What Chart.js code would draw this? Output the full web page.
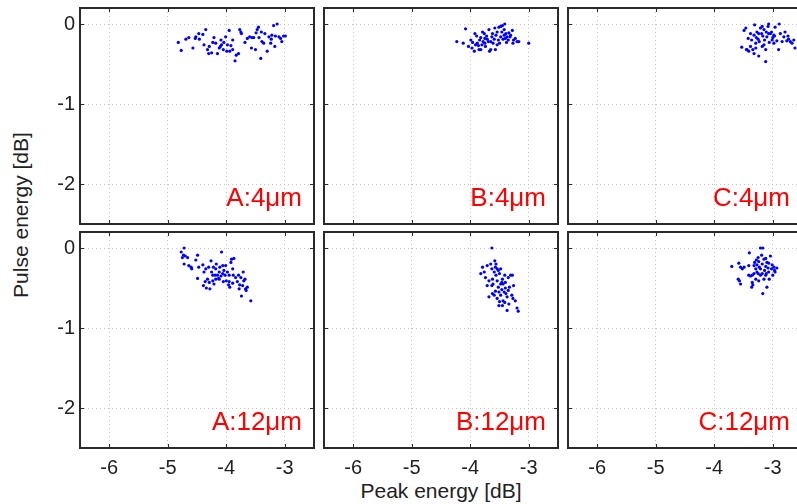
<!DOCTYPE html>
<html>
<head>
<meta charset="utf-8">
<script src="https://cdn.jsdelivr.net/npm/chart.js@4.4.1/dist/chart.umd.min.js"></script>
<style>
  html, body { margin: 0; padding: 0; background: #fff; }
  #wrap { position: relative; width: 797px; height: 504px; overflow: hidden; font-family: "Liberation Sans", Arial, sans-serif; }
  #wrap canvas { position: absolute; }
  .axis-title { position: absolute; font-size: 21px; color: #222; white-space: nowrap; }
  #xTitle { left: 441px; top: 491px; transform: translate(-50%, -50%); }
  #yTitle { left: 21px; top: 215px; transform: translate(-50%, -50%) rotate(-90deg); }
</style>
</head>
<body>
<div id="wrap">
  <div class="axis-title" id="xTitle">Peak energy [dB]</div>
  <div class="axis-title" id="yTitle">Pulse energy [dB]</div>
</div>
<script>
(function () {
  "use strict";

  // ---- data ----
  const xTicks = [-6, -5, -4, -3];
  const yTicks = [-2, -1, 0];
  const panelLabels = ["A:4\u03bcm", "B:4\u03bcm", "C:4\u03bcm", "A:12\u03bcm", "B:12\u03bcm", "C:12\u03bcm"];

  const a4Peak = [-4.82, -4.77, -4.69, -4.64, -4.57, -4.52, -4.47, -4.40, -4.35, -4.46, -4.38, -4.30, -4.25, -4.21, -4.18, -4.15, -4.12, -4.09, -4.08, -4.05, -4.04, -4.01, -3.99, -3.95, -3.92, -3.89, -3.85, -3.83, -3.79, -3.77, -3.74, -3.68, -3.64, -3.60, -3.57, -3.53, -3.50, -3.49, -3.47, -3.45, -3.44, -3.41, -3.40, -3.39, -3.36, -3.34, -3.30, -3.27, -3.24, -3.22, -3.19, -3.16, -3.13, -3.10, -3.07, -3.05, -3.02, -2.99, -3.17, -4.23, -4.10, -3.98, -3.94, -4.53, -4.29, -3.75, -3.56, -3.23, -4.32, -3.89];
  const a4Pulse = [-0.23, -0.33, -0.19, -0.17, -0.30, -0.16, -0.12, -0.13, -0.07, -0.19, -0.26, -0.37, -0.36, -0.17, -0.24, -0.37, -0.30, -0.20, -0.26, -0.32, -0.23, -0.16, -0.34, -0.08, -0.27, -0.32, -0.46, -0.39, -0.37, -0.07, -0.12, -0.23, -0.18, -0.16, -0.30, -0.17, -0.32, -0.11, -0.07, -0.04, -0.17, -0.43, -0.10, -0.22, -0.24, -0.12, -0.34, -0.16, -0.24, -0.14, -0.02, -0.15, 0.00, -0.16, -0.18, -0.22, -0.15, -0.15, -0.28, -0.23, -0.28, -0.26, -0.34, -0.18, -0.28, -0.10, -0.17, -0.19, -0.32, -0.20];

  const b4Peak = [-4.23, -4.12, -4.08, -4.03, -3.99, -3.96, -3.93, -3.92, -3.89, -3.88, -3.85, -3.84, -3.82, -3.80, -3.79, -3.78, -3.76, -3.75, -3.74, -3.72, -3.71, -3.69, -3.68, -3.67, -3.65, -3.63, -3.62, -3.61, -3.59, -3.58, -3.57, -3.56, -3.54, -3.52, -3.51, -3.50, -3.48, -3.46, -3.45, -3.44, -3.42, -3.41, -3.40, -3.39, -3.37, -3.35, -3.34, -3.32, -3.31, -3.28, -3.27, -3.26, -3.23, -3.20, -3.17, -3.00, -3.91, -3.86, -3.75, -3.65, -3.54, -3.48, -3.42, -3.38, -3.82, -3.97];
  const b4Pulse = [-0.22, -0.24, -0.06, -0.28, -0.20, -0.23, -0.34, -0.12, -0.15, -0.24, -0.32, -0.20, -0.17, -0.26, -0.10, -0.22, -0.12, -0.18, -0.28, -0.15, -0.19, -0.22, -0.07, -0.34, -0.32, -0.16, -0.12, -0.24, -0.19, -0.05, -0.32, -0.14, -0.10, -0.20, -0.04, -0.24, -0.16, -0.10, -0.02, -0.19, -0.14, 0.00, -0.18, -0.12, -0.16, -0.20, -0.11, -0.16, -0.14, -0.08, -0.24, -0.20, -0.18, -0.22, -0.22, -0.24, -0.26, -0.27, -0.24, -0.22, -0.26, -0.03, -0.07, -0.23, -0.32, -0.30];

  const c4Peak = [-3.53, -3.49, -3.46, -3.45, -3.44, -3.42, -3.41, -3.38, -3.36, -3.34, -3.32, -3.31, -3.29, -3.28, -3.27, -3.25, -3.24, -3.23, -3.21, -3.19, -3.18, -3.17, -3.15, -3.14, -3.12, -3.11, -3.10, -3.08, -3.07, -3.06, -3.04, -3.02, -3.01, -3.00, -2.98, -2.97, -2.96, -2.93, -2.90, -2.89, -2.87, -2.84, -2.81, -2.79, -2.76, -2.74, -2.73, -2.70, -2.67, -2.64, -2.62, -3.38, -3.29, -3.12, -3.32, -3.15, -3.07, -2.98, -3.24, -3.18];
  const c4Pulse = [-0.29, -0.08, -0.05, -0.32, -0.32, -0.18, -0.34, -0.12, -0.20, -0.32, -0.14, -0.01, -0.24, -0.17, -0.10, -0.19, -0.40, -0.22, -0.05, -0.12, -0.28, -0.15, -0.07, -0.20, -0.47, -0.10, -0.16, -0.03, 0.00, -0.23, -0.12, -0.10, -0.20, -0.17, -0.24, -0.15, -0.04, -0.21, -0.32, 0.00, -0.12, -0.22, -0.16, -0.10, -0.21, -0.15, -0.19, -0.22, -0.24, -0.20, -0.30, -0.28, -0.30, -0.32, -0.37, -0.26, -0.12, -0.14, -0.12, -0.03];

  const a12Peak = [-4.77, -4.75, -4.73, -4.72, -4.70, -4.66, -4.72, -4.64, -4.60, -4.59, -4.52, -4.49, -4.47, -4.49, -4.40, -4.38, -4.39, -4.35, -4.34, -4.32, -4.30, -4.28, -4.26, -4.25, -4.23, -4.22, -4.21, -4.19, -4.18, -4.17, -4.15, -4.13, -4.12, -4.11, -4.09, -4.08, -4.06, -4.05, -4.04, -4.02, -4.01, -4.00, -3.98, -3.96, -3.95, -3.94, -3.92, -3.91, -3.89, -3.88, -3.87, -3.84, -3.81, -3.79, -3.78, -3.77, -3.75, -3.74, -3.72, -3.71, -3.70, -3.68, -3.67, -3.66, -3.64, -3.58, -4.36, -4.29, -4.18, -4.12, -4.23, -4.06, -3.95, -3.89];
  const a12Pulse = [-0.05, -0.12, -0.09, 0.00, -0.10, -0.12, -0.20, -0.22, -0.24, -0.26, -0.15, -0.09, -0.24, -0.38, -0.21, -0.30, -0.47, -0.26, -0.50, -0.39, -0.24, -0.51, -0.16, -0.30, -0.41, -0.24, -0.45, -0.34, -0.26, -0.20, -0.34, -0.38, -0.30, -0.24, -0.35, -0.05, -0.32, -0.42, -0.28, -0.34, -0.22, -0.41, -0.30, -0.46, -0.34, -0.49, -0.18, -0.14, -0.26, -0.34, -0.13, -0.37, -0.42, -0.34, -0.51, -0.46, -0.37, -0.60, -0.47, -0.30, -0.41, -0.39, -0.51, -0.53, -0.49, -0.66, -0.42, -0.43, -0.39, -0.39, -0.34, -0.22, -0.42, -0.44];

  const b12Peak = [-3.63, -3.79, -3.82, -3.76, -3.74, -3.71, -3.68, -3.65, -3.63, -3.62, -3.61, -3.59, -3.58, -3.57, -3.56, -3.54, -3.54, -3.52, -3.51, -3.50, -3.48, -3.48, -3.46, -3.45, -3.44, -3.42, -3.41, -3.40, -3.39, -3.37, -3.35, -3.34, -3.33, -3.31, -3.29, -3.28, -3.27, -3.26, -3.23, -3.20, -3.18, -3.51, -3.45, -3.37, -3.54, -3.50, -3.46, -3.41, -3.57, -3.59, -3.63, -3.68, -3.71, -3.62, -3.52, -3.44, -3.35, -3.48, -3.56, -3.40];
  const b12Pulse = [0.00, -0.24, -0.32, -0.30, -0.37, -0.47, -0.61, -0.20, -0.26, -0.39, -0.45, -0.30, -0.16, -0.24, -0.34, -0.26, -0.41, -0.49, -0.55, -0.32, -0.45, -0.59, -0.52, -0.39, -0.66, -0.55, -0.34, -0.50, -0.57, -0.61, -0.37, -0.70, -0.49, -0.34, -0.59, -0.34, -0.63, -0.47, -0.66, -0.75, -0.79, -0.72, -0.72, -0.78, -0.63, -0.67, -0.43, -0.68, -0.54, -0.59, -0.47, -0.41, -0.22, -0.57, -0.28, -0.45, -0.53, -0.26, -0.20, -0.43];

  const c12Peak = [-3.70, -3.58, -3.55, -3.52, -3.49, -3.59, -3.57, -3.55, -3.40, -3.36, -3.34, -3.41, -3.38, -3.35, -3.32, -3.31, -3.29, -3.28, -3.27, -3.25, -3.24, -3.23, -3.21, -3.19, -3.18, -3.17, -3.17, -3.15, -3.14, -3.12, -3.11, -3.10, -3.10, -3.08, -3.07, -3.06, -3.04, -3.02, -3.01, -3.00, -2.98, -2.97, -2.96, -2.93, -3.21, -3.29, -3.35, -3.25, -3.15, -3.24, -3.41, -3.27, -3.18, -3.12, -3.07, -3.21, -3.32, -3.12];
  const c12Pulse = [-0.23, -0.19, -0.24, -0.26, -0.24, -0.39, -0.41, -0.45, -0.06, -0.49, -0.46, -0.34, -0.35, -0.34, -0.22, -0.18, -0.26, -0.15, -0.21, -0.12, -0.17, -0.24, 0.00, -0.09, -0.20, 0.00, -0.57, -0.14, -0.28, -0.34, -0.32, -0.18, -0.49, -0.25, -0.30, -0.39, -0.10, -0.26, -0.21, -0.34, -0.24, -0.28, -0.30, -0.25, -0.34, -0.39, -0.43, -0.32, -0.39, -0.41, -0.22, -0.30, -0.32, -0.23, -0.19, -0.26, -0.32, -0.13];

  const panels = [
    [a4Peak, a4Pulse], [b4Peak, b4Pulse], [c4Peak, c4Pulse],
    [a12Peak, a12Pulse], [b12Peak, b12Pulse], [c12Peak, c12Pulse],
  ];

  // ---- layout ----
  const X_MIN = -6.5, X_MAX = -2.5, Y_MIN = -2.5, Y_MAX = 0.2;
  const COL_LEFT = [80, 324, 568];
  const ROW_TOP = [7, 231];
  const PLOT_W = 235, PLOT_H = 217;
  const Y_W = 50, X_H = 44, PAD = 3;
  const FONT = "'Liberation Sans', Arial, sans-serif";

  const wrap = document.getElementById("wrap");

  const framePlugin = {
    id: "frame",
    afterDraw(chart, args, opts) {
      const {ctx, chartArea: a} = chart;
      const x = chart.scales.x, y = chart.scales.y;
      ctx.save();
      ctx.strokeStyle = "#2a2a2a";
      ctx.lineWidth = 1;
      ctx.beginPath();
      xTicks.forEach((v) => {
        const px = Math.round(x.getPixelForValue(v)) + 0.5;
        ctx.moveTo(px, a.top); ctx.lineTo(px, a.top + 4);
        ctx.moveTo(px, a.bottom); ctx.lineTo(px, a.bottom - 4);
      });
      yTicks.forEach((v) => {
        const py = Math.round(y.getPixelForValue(v)) + 0.5;
        ctx.moveTo(a.left, py); ctx.lineTo(a.left + 4, py);
        ctx.moveTo(a.right, py); ctx.lineTo(a.right - 4, py);
      });
      ctx.stroke();
      ctx.lineWidth = 2;
      ctx.strokeRect(a.left, a.top, a.right - a.left, a.bottom - a.top);

      ctx.font = "26px " + FONT;
      ctx.fillStyle = "#ff0000";
      ctx.textAlign = "right";
      ctx.textBaseline = "alphabetic";
      ctx.fillText(opts.text, a.right - 12, a.bottom - 18);
      ctx.restore();
    },
  };

  function gridOpts() {
    return {color: "#c4c4c4", lineWidth: 1, drawTicks: false};
  }

  function noPadding(s) {
    s.paddingTop = 0;
    s.paddingBottom = 0;
    s.paddingLeft = 0;
    s.paddingRight = 0;
  }

  function makePanel(idx) {
    const col = idx % 3;
    const row = Math.floor(idx / 3);
    const [peak, pulse] = panels[idx];

    const canvas = document.createElement("canvas");
    canvas.width = Y_W + PLOT_W + PAD;
    canvas.height = PAD + PLOT_H + X_H;
    canvas.style.left = (COL_LEFT[col] - Y_W) + "px";
    canvas.style.top = (ROW_TOP[row] - PAD) + "px";
    wrap.appendChild(canvas);

    new Chart(canvas, {
      type: "scatter",
      data: {
        datasets: [{
          data: peak.map((v, i) => ({x: v, y: pulse[i]})),
          backgroundColor: "#0000ff",
          borderWidth: 0,
          pointRadius: 1.6,
        }],
      },
      options: {
        responsive: false,
        animation: false,
        devicePixelRatio: 1,
        layout: {padding: {top: PAD, right: PAD, left: 0, bottom: 0}},
        plugins: {
          legend: {display: false},
          tooltip: {enabled: false},
          frame: {text: panelLabels[idx]},
        },
        scales: {
          x: {
            type: "linear",
            min: X_MIN,
            max: X_MAX,
            afterFit: (s) => { s.height = X_H; noPadding(s); },
            afterBuildTicks: (s) => { s.ticks = xTicks.map((v) => ({value: v})); },
            grid: gridOpts(),
            border: {display: false, dash: [1, 3]},
            ticks: {
              display: row === 1,
              padding: 8,
              color: "#222",
              font: {family: FONT, size: 20},
              callback: (v) => String(v),
            },
          },
          y: {
            type: "linear",
            min: Y_MIN,
            max: Y_MAX,
            afterFit: (s) => { s.width = Y_W; noPadding(s); },
            afterBuildTicks: (s) => { s.ticks = yTicks.map((v) => ({value: v})); },
            grid: gridOpts(),
            border: {display: false, dash: [1, 3]},
            ticks: {
              display: col === 0,
              padding: 5,
              color: "#222",
              font: {family: FONT, size: 20},
              callback: (v) => String(v),
            },
          },
        },
      },
      plugins: [framePlugin],
    });
  }

  panels.forEach((p, i) => makePanel(i));
})();
</script>
</body>
</html>
